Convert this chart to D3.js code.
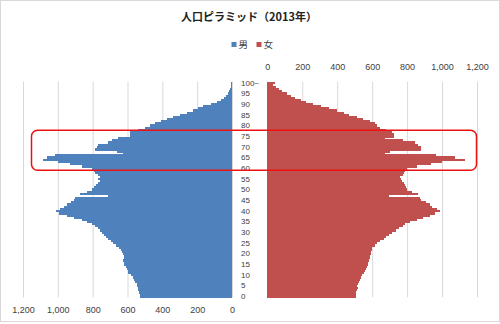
<!DOCTYPE html>
<html><head><meta charset="utf-8">
<script src="https://cdn.jsdelivr.net/npm/d3@7"></script>
<style>
html,body{margin:0;padding:0;background:#fff;}
svg{display:block;}
</style></head>
<body>
<svg id="c" width="500" height="324"></svg>
<script>
const title = "人口ピラミッド（2013年）";
const seriesNames = ["男", "女"];
const ages = d3.range(0, 101);
const ageTickLabels = ["0","5","10","15","20","25","30","35","40","45","50","55","60","65","70","75","80","85","90","95","100~"];
const valueTicks = [0, 200, 400, 600, 800, 1000, 1200];
// thousands, age 0 .. 100+
const male = [
 528,530,535,538,540,545,548,555,562,567,
 580,595,598,605,610,618,622,624,620,622,
 625,630,635,650,668,681,695,710,722,735,
 745,758,772,787,806,830,860,905,950,995,
 1010,990,965,945,925,905,900,710,873,830,
 806,790,780,770,760,770,760,770,785,790,
 805,860,930,997,1083,1060,1016,626,662,787,
 775,768,712,690,655,588,586,584,540,500,
 471,440,410,375,340,300,260,225,195,165,
 120,85,62,48,35,25,18,12,8,5,
 7];
const female = [
 505,507,510,515,518,515,518,522,530,535,
 540,552,558,562,568,575,578,580,585,590,
 594,596,598,600,615,630,645,665,680,695,
 715,735,755,775,790,815,855,890,930,960,
 987,970,945,930,910,880,873,697,863,830,
 800,796,790,785,770,765,760,775,785,790,
 800,854,935,1000,1130,1075,968,672,700,880,
 882,863,844,777,672,725,724,715,682,644,
 630,615,590,545,511,470,440,400,355,310,
 263,220,190,160,135,111,85,65,50,35,
 44];

const svg = d3.select("#c");
const BLUE = "#4F81BD", RED = "#C0504D";
const numFont = "'Liberation Sans', Arial, sans-serif";

svg.append("rect").attr("x",0.5).attr("y",0.5).attr("width",499).attr("height",321)
  .attr("fill","#fff").attr("stroke","#d9d9d9");

const plotTop = 81.7, plotBot = 297.3;
const y = d3.scaleBand().domain(ages.slice().reverse()).range([plotTop, plotBot]).padding(0);
const xL = d3.scaleLinear().domain([0, 1200]).range([232, 23]);
const xR = d3.scaleLinear().domain([0, 1200]).range([267.3, 477]);
const fmt = d3.format(",");

// grid + axes
const gL = svg.append("g").attr("transform", `translate(0,${plotBot})`)
  .call(d3.axisBottom(xL).tickValues(valueTicks).tickFormat(fmt).tickSize(-(plotBot-plotTop)).tickPadding(9));
const gR = svg.append("g").attr("transform", `translate(0,${plotTop})`)
  .call(d3.axisTop(xR).tickValues(valueTicks).tickFormat(fmt).tickSize(-(plotBot-plotTop)).tickPadding(12));
[gL, gR].forEach(g => {
  g.select(".domain").remove();
  g.selectAll(".tick line").attr("stroke", "#d9d9d9");
  g.selectAll(".tick text").attr("fill", "#404040").style("font-family", numFont).style("font-size", "9px");
});

// bars
svg.append("g").attr("shape-rendering", "crispEdges").selectAll("rect").data(ages).join("rect")
  .attr("x", a => xL(male[a])).attr("width", a => xL(0) - xL(male[a]))
  .attr("y", a => y(a)).attr("height", y.bandwidth() + 0.5)
  .attr("fill", BLUE);
svg.append("g").attr("shape-rendering", "crispEdges").selectAll("rect").data(ages).join("rect")
  .attr("x", xR(0)).attr("width", a => xR(female[a]) - xR(0))
  .attr("y", a => y(a)).attr("height", y.bandwidth() + 0.5)
  .attr("fill", RED);

// age labels
svg.append("g").selectAll("text").data(ageTickLabels).join("text")
  .attr("x", 241)
  .attr("y", (d, i) => y(i*5) + y.bandwidth()/2)
  .attr("dy", "0.35em")
  .attr("fill", "#404040")
  .style("font-family", numFont).style("font-size", "8px")
  .text(d => d);

// title
svg.append("text").attr("x", 249).attr("y", 21).attr("text-anchor", "middle")
  .style("font-family", "'Noto Sans CJK JP', sans-serif").style("font-size", "11px").style("font-weight", "bold")
  .attr("fill", "#222").text(title);

// legend
const leg = svg.append("g");
const legX = [231.5, 256.5], cols = [BLUE, RED];
seriesNames.forEach((n, i) => {
  leg.append("rect").attr("x", legX[i]).attr("y", 42).attr("width", 5).attr("height", 5).attr("fill", cols[i]);
  leg.append("text").attr("x", legX[i] + 7).attr("y", 44.5).attr("dy", "0.35em")
    .style("font-family", "'Noto Sans CJK JP', sans-serif").style("font-size", "9.5px")
    .attr("fill", "#404040").text(n);
});

// highlight rectangle (ages ~59-78)
const hlTop = y(78) + 1.5, hlBot = y(59) + 1;
svg.append("rect").attr("x", 31.5).attr("y", hlTop).attr("width", 476.5 - 31.5).attr("height", hlBot - hlTop)
  .attr("rx", 6).attr("ry", 6).attr("fill", "none").attr("stroke", "#ee1111").attr("stroke-width", 1.5);
</script>
</body></html>
